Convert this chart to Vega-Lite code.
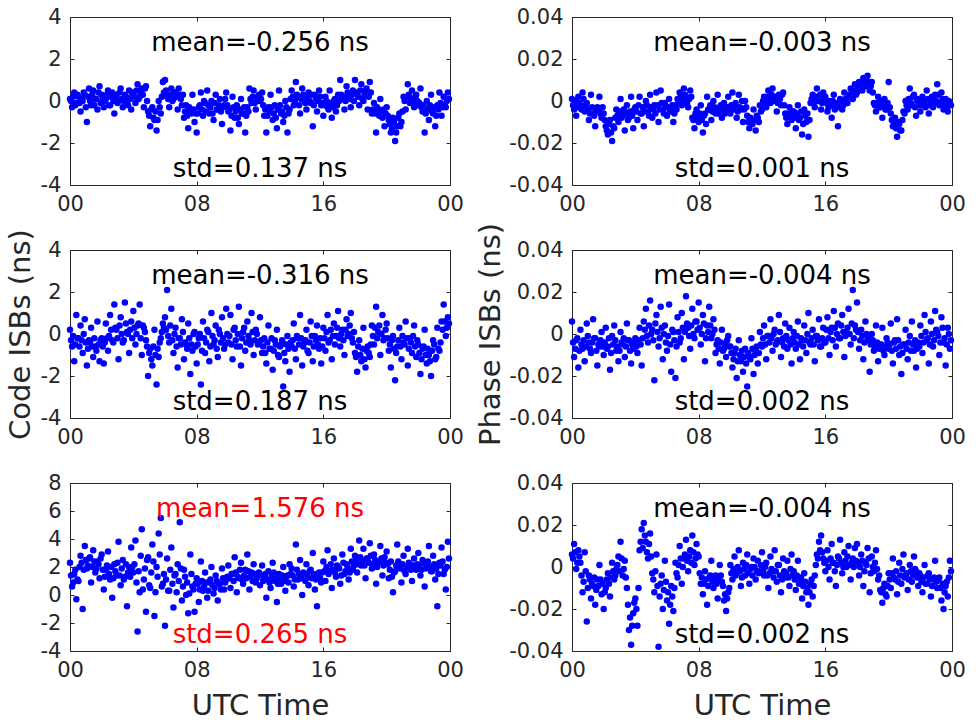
{
"$schema": "https://vega.github.io/schema/vega-lite/v6.json",
"padding": {"left": 5, "top": 5, "right": 5, "bottom": 5},
"config": {
  "font": "DejaVu Sans",
  "view": {"stroke": "#262626", "strokeWidth": 1},
  "axis": {"grid": false, "domain": false, "tickColor": "#262626", "tickSize": -4, "tickWidth": 1, "labelFont": "DejaVu Sans", "labelFontSize": 21, "labelColor": "#262626", "titleFont": "DejaVu Sans", "titleFontSize": 29, "titleFontWeight": "normal", "titleColor": "#262626", "labelFlush": false, "labelOverlap": false},
  "axisX": {"labelPadding": 12, "titlePadding": 11},
  "axisY": {"labelPadding": 13, "titlePadding": 5}
},
"columns": 2,
"spacing": {"row": 65, "column": 122},
"bounds": "flush",
"datasets": {
"a": [{"t":0,"v":0.1},{"t":8,"v":-0.3},{"t":16,"v":0.4},{"t":24,"v":-0.1},{"t":32,"v":0.2},{"t":40,"v":-0.5},{"t":48,"v":0.0},{"t":56,"v":0.3},{"t":64,"v":-1.0},{"t":72,"v":0.6},{"t":80,"v":-0.2},{"t":88,"v":0.5},{"t":96,"v":0.1},{"t":104,"v":-0.4},{"t":112,"v":0.7},
{"t":120,"v":0.3},{"t":128,"v":-0.3},{"t":136,"v":0.1},{"t":144,"v":0.5},{"t":152,"v":-0.2},{"t":160,"v":0.4},{"t":168,"v":-0.6},{"t":176,"v":0.2},{"t":184,"v":0.0},{"t":192,"v":0.6},{"t":200,"v":-0.3},{"t":208,"v":0.3},{"t":216,"v":-0.1},{"t":224,"v":0.5},{"t":232,"v":-0.4},
{"t":240,"v":0.4},{"t":248,"v":-0.1},{"t":256,"v":0.8},{"t":264,"v":0.2},{"t":272,"v":0.6},{"t":280,"v":-0.3},{"t":288,"v":0.7},{"t":296,"v":-0.5},{"t":304,"v":-1.2},{"t":312,"v":-0.3},{"t":320,"v":-0.9},{"t":328,"v":-1.4},{"t":336,"v":0.0},{"t":344,"v":-0.6},{"t":352,"v":0.9},
{"t":360,"v":1.0},{"t":368,"v":0.2},{"t":376,"v":-0.3},{"t":384,"v":0.6},{"t":392,"v":0.1},{"t":400,"v":0.4},{"t":408,"v":-0.4},{"t":416,"v":0.3},{"t":424,"v":-0.2},{"t":432,"v":-0.8},{"t":440,"v":-0.2},{"t":448,"v":-1.3},{"t":456,"v":-0.5},{"t":464,"v":0.3},{"t":472,"v":-1.0},
{"t":480,"v":-1.5},{"t":488,"v":-0.3},{"t":496,"v":0.4},{"t":504,"v":-0.7},{"t":512,"v":-0.1},{"t":520,"v":0.5},{"t":528,"v":-0.6},{"t":536,"v":0.0},{"t":544,"v":-0.9},{"t":552,"v":0.3},{"t":560,"v":-0.4},{"t":568,"v":0.1},{"t":576,"v":-1.1},{"t":584,"v":-0.2},{"t":592,"v":0.4},
{"t":600,"v":-0.5},{"t":608,"v":-1.4},{"t":616,"v":0.2},{"t":624,"v":-0.8},{"t":632,"v":-0.2},{"t":640,"v":-1.1},{"t":648,"v":0.1},{"t":656,"v":-0.6},{"t":664,"v":-1.5},{"t":672,"v":-0.3},{"t":680,"v":0.6},{"t":688,"v":-0.1},{"t":696,"v":0.5},{"t":704,"v":-0.4},{"t":712,"v":0.2},
{"t":720,"v":0.0},{"t":728,"v":0.4},{"t":736,"v":-0.7},{"t":744,"v":-1.5},{"t":752,"v":-0.3},{"t":760,"v":0.3},{"t":768,"v":-0.9},{"t":776,"v":-0.2},{"t":784,"v":-1.3},{"t":792,"v":0.5},{"t":800,"v":-0.6},{"t":808,"v":-1.0},{"t":816,"v":0.0},{"t":824,"v":-1.5},{"t":832,"v":-0.4},
{"t":840,"v":0.5},{"t":848,"v":-0.2},{"t":856,"v":0.9},{"t":864,"v":0.2},{"t":872,"v":-0.6},{"t":880,"v":0.6},{"t":888,"v":0.0},{"t":896,"v":-0.4},{"t":904,"v":0.4},{"t":912,"v":-0.1},{"t":920,"v":-1.2},{"t":928,"v":0.3},{"t":936,"v":-0.5},{"t":944,"v":0.5},{"t":952,"v":-0.2},
{"t":960,"v":-0.7},{"t":968,"v":0.2},{"t":976,"v":-0.3},{"t":984,"v":0.5},{"t":992,"v":-0.8},{"t":1000,"v":0.0},{"t":1008,"v":-0.5},{"t":1016,"v":0.3},{"t":1024,"v":1.0},{"t":1032,"v":0.1},{"t":1040,"v":-0.4},{"t":1048,"v":0.7},{"t":1056,"v":0.2},{"t":1064,"v":-0.3},{"t":1072,"v":0.5},
{"t":1080,"v":1.0},{"t":1088,"v":0.3},{"t":1096,"v":-0.2},{"t":1104,"v":0.8},{"t":1112,"v":0.0},{"t":1120,"v":0.5},{"t":1128,"v":-0.4},{"t":1136,"v":0.9},{"t":1144,"v":-0.6},{"t":1152,"v":-0.1},{"t":1160,"v":-1.5},{"t":1168,"v":-0.4},{"t":1176,"v":0.1},{"t":1184,"v":-0.8},{"t":1192,"v":-1.2},
{"t":1200,"v":-0.3},{"t":1208,"v":-0.9},{"t":1216,"v":-1.5},{"t":1224,"v":-0.8},{"t":1232,"v":-1.9},{"t":1240,"v":-1.2},{"t":1248,"v":-0.6},{"t":1256,"v":-1.0},{"t":1264,"v":0.2},{"t":1272,"v":-0.4},{"t":1280,"v":0.8},{"t":1288,"v":-0.1},{"t":1296,"v":0.5},{"t":1304,"v":-0.3},{"t":1312,"v":0.3},
{"t":1320,"v":-0.2},{"t":1328,"v":0.6},{"t":1336,"v":-0.5},{"t":1344,"v":-1.5},{"t":1352,"v":0.0},{"t":1360,"v":-0.9},{"t":1368,"v":0.3},{"t":1376,"v":-0.6},{"t":1384,"v":-1.2},{"t":1392,"v":-0.2},{"t":1400,"v":0.4},{"t":1408,"v":-0.7},{"t":1416,"v":0.2},{"t":1424,"v":-0.3},{"t":1432,"v":0.4},
{"t":4,"v":0.0},{"t":12,"v":0.2},{"t":20,"v":-0.2},{"t":28,"v":0.3},{"t":36,"v":-0.1},{"t":44,"v":0.1},{"t":52,"v":0.4},{"t":60,"v":-0.3},{"t":68,"v":0.2},{"t":76,"v":0.0},{"t":84,"v":0.3},{"t":92,"v":-0.2},{"t":100,"v":0.1},{"t":108,"v":0.4},{"t":116,"v":-0.1},
{"t":124,"v":0.1},{"t":132,"v":0.0},{"t":140,"v":0.3},{"t":148,"v":-0.2},{"t":156,"v":0.2},{"t":164,"v":0.0},{"t":172,"v":0.3},{"t":180,"v":-0.1},{"t":188,"v":0.4},{"t":196,"v":0.1},{"t":204,"v":0.0},{"t":212,"v":0.2},{"t":220,"v":-0.2},{"t":228,"v":0.1},{"t":236,"v":0.3},
{"t":244,"v":0.2},{"t":252,"v":0.5},{"t":260,"v":0.1},{"t":268,"v":0.4},{"t":276,"v":0.3},{"t":284,"v":0.6},{"t":292,"v":0.0},{"t":300,"v":-0.7},{"t":308,"v":-0.4},{"t":316,"v":-0.8},{"t":324,"v":-0.5},{"t":332,"v":-0.9},{"t":340,"v":-0.3},{"t":348,"v":0.2},{"t":356,"v":0.4},
{"t":364,"v":0.5},{"t":372,"v":0.1},{"t":380,"v":0.3},{"t":388,"v":0.0},{"t":396,"v":0.4},{"t":404,"v":0.2},{"t":412,"v":0.6},{"t":420,"v":0.1},{"t":428,"v":0.3},{"t":436,"v":-0.5},{"t":444,"v":-0.7},{"t":452,"v":-0.3},{"t":460,"v":-0.6},{"t":468,"v":-0.4},{"t":476,"v":-0.6},
{"t":484,"v":-0.6},{"t":492,"v":-0.2},{"t":500,"v":-0.4},{"t":508,"v":0.0},{"t":516,"v":-0.5},{"t":524,"v":-0.2},{"t":532,"v":-0.3},{"t":540,"v":-0.6},{"t":548,"v":-0.1},{"t":556,"v":-0.4},{"t":564,"v":-0.2},{"t":572,"v":-0.5},{"t":580,"v":-0.3},{"t":588,"v":0.1},{"t":596,"v":-0.2},
{"t":604,"v":-0.4},{"t":612,"v":-0.7},{"t":620,"v":-0.3},{"t":628,"v":-0.5},{"t":636,"v":-0.8},{"t":644,"v":-0.4},{"t":652,"v":-0.6},{"t":660,"v":-0.3},{"t":668,"v":-0.7},{"t":676,"v":-0.5},{"t":684,"v":0.1},{"t":692,"v":0.2},{"t":700,"v":-0.1},{"t":708,"v":0.0},{"t":716,"v":0.3},
{"t":724,"v":0.1},{"t":732,"v":-0.2},{"t":740,"v":-0.4},{"t":748,"v":-0.7},{"t":756,"v":-0.5},{"t":764,"v":-0.3},{"t":772,"v":-0.6},{"t":780,"v":-0.8},{"t":788,"v":-0.4},{"t":796,"v":-0.2},{"t":804,"v":-0.5},{"t":812,"v":-0.7},{"t":820,"v":-0.3},{"t":828,"v":-0.6},{"t":836,"v":0.1},
{"t":844,"v":0.2},{"t":852,"v":0.0},{"t":860,"v":0.3},{"t":868,"v":-0.2},{"t":876,"v":0.1},{"t":884,"v":0.3},{"t":892,"v":-0.1},{"t":900,"v":0.2},{"t":908,"v":0.0},{"t":916,"v":0.3},{"t":924,"v":-0.2},{"t":932,"v":0.1},{"t":940,"v":0.0},{"t":948,"v":0.2},{"t":956,"v":-0.1},
{"t":964,"v":-0.2},{"t":972,"v":0.0},{"t":980,"v":-0.4},{"t":988,"v":-0.1},{"t":996,"v":-0.3},{"t":1004,"v":0.1},{"t":1012,"v":-0.2},{"t":1020,"v":0.0},{"t":1028,"v":0.3},{"t":1036,"v":0.2},{"t":1044,"v":0.0},{"t":1052,"v":0.4},{"t":1060,"v":0.1},{"t":1068,"v":0.3},{"t":1076,"v":0.0},
{"t":1084,"v":0.4},{"t":1092,"v":0.2},{"t":1100,"v":0.5},{"t":1108,"v":0.1},{"t":1116,"v":0.3},{"t":1124,"v":0.6},{"t":1132,"v":0.2},{"t":1140,"v":0.4},{"t":1148,"v":-0.4},{"t":1156,"v":-0.6},{"t":1164,"v":-0.3},{"t":1172,"v":-0.7},{"t":1180,"v":-0.5},{"t":1188,"v":-0.4},{"t":1196,"v":-0.6},
{"t":1204,"v":-0.7},{"t":1212,"v":-1.1},{"t":1220,"v":-1.3},{"t":1228,"v":-1.0},{"t":1236,"v":-1.5},{"t":1244,"v":-0.8},{"t":1252,"v":-1.2},{"t":1260,"v":-0.5},{"t":1268,"v":0.0},{"t":1276,"v":0.2},{"t":1284,"v":0.3},{"t":1292,"v":0.1},{"t":1300,"v":-0.1},{"t":1308,"v":0.2},{"t":1316,"v":0.0},
{"t":1324,"v":-0.1},{"t":1332,"v":-0.3},{"t":1340,"v":-0.2},{"t":1348,"v":-0.6},{"t":1356,"v":-0.4},{"t":1364,"v":-0.2},{"t":1372,"v":-0.5},{"t":1380,"v":-0.3},{"t":1388,"v":-0.7},{"t":1396,"v":-0.4},{"t":1404,"v":-0.1},{"t":1412,"v":-0.3},{"t":1420,"v":-0.2},{"t":1428,"v":0.0},{"t":1436,"v":0.1}],
"b": [{"t":0,"v":0.001},{"t":8,"v":-0.004},{"t":16,"v":-0.007},{"t":24,"v":0.002},{"t":32,"v":-0.002},{"t":40,"v":0.004},{"t":48,"v":-0.005},{"t":56,"v":-0.001},{"t":64,"v":-0.009},{"t":72,"v":0.003},{"t":80,"v":-0.006},{"t":88,"v":-0.012},{"t":96,"v":-0.003},{"t":104,"v":0.002},{"t":112,"v":-0.008},
{"t":120,"v":-0.006},{"t":128,"v":-0.012},{"t":136,"v":-0.016},{"t":144,"v":-0.009},{"t":152,"v":-0.019},{"t":160,"v":-0.013},{"t":168,"v":-0.004},{"t":176,"v":-0.010},{"t":184,"v":0.001},{"t":192,"v":-0.007},{"t":200,"v":-0.014},{"t":208,"v":-0.002},{"t":216,"v":-0.008},{"t":224,"v":0.002},{"t":232,"v":-0.013},
{"t":240,"v":-0.003},{"t":248,"v":-0.009},{"t":256,"v":0.002},{"t":264,"v":-0.006},{"t":272,"v":-0.012},{"t":280,"v":0.000},{"t":288,"v":-0.005},{"t":296,"v":0.003},{"t":304,"v":-0.008},{"t":312,"v":-0.002},{"t":320,"v":0.004},{"t":328,"v":-0.010},{"t":336,"v":0.005},{"t":344,"v":-0.004},{"t":352,"v":-0.001},
{"t":360,"v":-0.007},{"t":368,"v":0.001},{"t":376,"v":-0.004},{"t":384,"v":-0.010},{"t":392,"v":-0.002},{"t":400,"v":0.001},{"t":408,"v":0.004},{"t":416,"v":-0.002},{"t":424,"v":0.006},{"t":432,"v":0.002},{"t":440,"v":-0.003},{"t":448,"v":0.005},{"t":456,"v":-0.008},{"t":464,"v":-0.013},{"t":472,"v":-0.004},
{"t":480,"v":-0.010},{"t":488,"v":-0.002},{"t":496,"v":-0.015},{"t":504,"v":-0.006},{"t":512,"v":0.002},{"t":520,"v":-0.004},{"t":528,"v":-0.009},{"t":536,"v":0.000},{"t":544,"v":-0.006},{"t":552,"v":0.003},{"t":560,"v":-0.003},{"t":568,"v":-0.008},{"t":576,"v":-0.001},{"t":584,"v":-0.005},{"t":592,"v":0.002},
{"t":600,"v":-0.006},{"t":608,"v":0.004},{"t":616,"v":-0.002},{"t":624,"v":-0.008},{"t":632,"v":0.003},{"t":640,"v":-0.004},{"t":648,"v":-0.010},{"t":656,"v":0.000},{"t":664,"v":-0.007},{"t":672,"v":-0.013},{"t":680,"v":-0.009},{"t":688,"v":-0.004},{"t":696,"v":-0.014},{"t":704,"v":-0.008},{"t":712,"v":-0.002},
{"t":720,"v":-0.004},{"t":728,"v":0.002},{"t":736,"v":-0.003},{"t":744,"v":0.005},{"t":752,"v":-0.001},{"t":760,"v":0.006},{"t":768,"v":0.001},{"t":776,"v":-0.005},{"t":784,"v":0.003},{"t":792,"v":-0.002},{"t":800,"v":0.004},{"t":808,"v":-0.006},{"t":816,"v":-0.011},{"t":824,"v":-0.003},{"t":832,"v":-0.009},
{"t":840,"v":-0.005},{"t":848,"v":-0.013},{"t":856,"v":-0.002},{"t":864,"v":-0.008},{"t":872,"v":-0.016},{"t":880,"v":-0.004},{"t":888,"v":-0.010},{"t":896,"v":-0.017},{"t":904,"v":-0.001},{"t":912,"v":0.003},{"t":920,"v":-0.003},{"t":928,"v":0.006},{"t":936,"v":0.000},{"t":944,"v":-0.004},{"t":952,"v":0.004},
{"t":960,"v":0.002},{"t":968,"v":-0.005},{"t":976,"v":0.000},{"t":984,"v":-0.008},{"t":992,"v":0.003},{"t":1000,"v":-0.003},{"t":1008,"v":-0.012},{"t":1016,"v":0.001},{"t":1024,"v":-0.004},{"t":1032,"v":0.004},{"t":1040,"v":-0.001},{"t":1048,"v":0.002},{"t":1056,"v":0.006},{"t":1064,"v":0.001},{"t":1072,"v":0.008},
{"t":1080,"v":0.004},{"t":1088,"v":0.009},{"t":1096,"v":0.006},{"t":1104,"v":0.011},{"t":1112,"v":0.007},{"t":1120,"v":0.012},{"t":1128,"v":0.005},{"t":1136,"v":0.009},{"t":1144,"v":-0.001},{"t":1152,"v":-0.005},{"t":1160,"v":0.002},{"t":1168,"v":-0.003},{"t":1176,"v":-0.008},{"t":1184,"v":0.001},{"t":1192,"v":-0.004},
{"t":1200,"v":0.009},{"t":1208,"v":-0.006},{"t":1216,"v":-0.012},{"t":1224,"v":-0.008},{"t":1232,"v":-0.017},{"t":1240,"v":-0.011},{"t":1248,"v":-0.014},{"t":1256,"v":-0.005},{"t":1264,"v":0.000},{"t":1272,"v":-0.004},{"t":1280,"v":0.006},{"t":1288,"v":-0.002},{"t":1296,"v":0.003},{"t":1304,"v":-0.007},{"t":1312,"v":0.001},
{"t":1320,"v":-0.005},{"t":1328,"v":0.002},{"t":1336,"v":-0.001},{"t":1344,"v":0.005},{"t":1352,"v":-0.006},{"t":1360,"v":0.000},{"t":1368,"v":-0.003},{"t":1376,"v":0.003},{"t":1384,"v":0.008},{"t":1392,"v":-0.002},{"t":1400,"v":0.004},{"t":1408,"v":-0.004},{"t":1416,"v":0.001},{"t":1424,"v":-0.005},{"t":1432,"v":-0.001},
{"t":4,"v":-0.002},{"t":12,"v":0.000},{"t":20,"v":-0.003},{"t":28,"v":-0.001},{"t":36,"v":-0.004},{"t":44,"v":0.001},{"t":52,"v":-0.002},{"t":60,"v":-0.004},{"t":68,"v":-0.006},{"t":76,"v":-0.003},{"t":84,"v":-0.007},{"t":92,"v":-0.005},{"t":100,"v":-0.004},{"t":108,"v":-0.006},{"t":116,"v":-0.003},
{"t":124,"v":-0.009},{"t":132,"v":-0.014},{"t":140,"v":-0.011},{"t":148,"v":-0.015},{"t":156,"v":-0.012},{"t":164,"v":-0.008},{"t":172,"v":-0.007},{"t":180,"v":-0.005},{"t":188,"v":-0.008},{"t":196,"v":-0.004},{"t":204,"v":-0.006},{"t":212,"v":-0.009},{"t":220,"v":-0.005},{"t":228,"v":-0.007},{"t":236,"v":-0.004},
{"t":244,"v":-0.005},{"t":252,"v":-0.002},{"t":260,"v":-0.006},{"t":268,"v":-0.003},{"t":276,"v":-0.005},{"t":284,"v":-0.002},{"t":292,"v":-0.007},{"t":300,"v":-0.003},{"t":308,"v":-0.004},{"t":316,"v":-0.006},{"t":324,"v":-0.002},{"t":332,"v":-0.004},{"t":340,"v":-0.001},{"t":348,"v":-0.006},{"t":356,"v":-0.003},
{"t":364,"v":-0.003},{"t":372,"v":-0.005},{"t":380,"v":-0.002},{"t":388,"v":-0.006},{"t":396,"v":-0.004},{"t":404,"v":-0.001},{"t":412,"v":0.002},{"t":420,"v":0.000},{"t":428,"v":0.003},{"t":436,"v":-0.001},{"t":444,"v":0.001},{"t":452,"v":0.002},{"t":460,"v":-0.009},{"t":468,"v":-0.006},{"t":476,"v":-0.008},
{"t":484,"v":-0.006},{"t":492,"v":-0.009},{"t":500,"v":-0.007},{"t":508,"v":-0.011},{"t":516,"v":-0.004},{"t":524,"v":-0.002},{"t":532,"v":-0.005},{"t":540,"v":-0.003},{"t":548,"v":-0.004},{"t":556,"v":-0.006},{"t":564,"v":-0.002},{"t":572,"v":-0.004},{"t":580,"v":-0.006},{"t":588,"v":-0.003},{"t":596,"v":-0.004},
{"t":604,"v":-0.002},{"t":612,"v":-0.004},{"t":620,"v":-0.001},{"t":628,"v":-0.005},{"t":636,"v":-0.003},{"t":644,"v":0.000},{"t":652,"v":-0.004},{"t":660,"v":-0.003},{"t":668,"v":-0.010},{"t":676,"v":-0.008},{"t":684,"v":-0.011},{"t":692,"v":-0.009},{"t":700,"v":-0.007},{"t":708,"v":-0.010},{"t":716,"v":-0.005},
{"t":724,"v":0.000},{"t":732,"v":-0.001},{"t":740,"v":0.002},{"t":748,"v":0.001},{"t":756,"v":0.003},{"t":764,"v":0.000},{"t":772,"v":0.002},{"t":780,"v":-0.001},{"t":788,"v":0.001},{"t":796,"v":0.003},{"t":804,"v":-0.002},{"t":812,"v":-0.008},{"t":820,"v":-0.006},{"t":828,"v":-0.007},{"t":836,"v":-0.005},
{"t":844,"v":-0.008},{"t":852,"v":-0.006},{"t":860,"v":-0.009},{"t":868,"v":-0.005},{"t":876,"v":-0.011},{"t":884,"v":-0.007},{"t":892,"v":-0.006},{"t":900,"v":-0.009},{"t":908,"v":0.001},{"t":916,"v":-0.001},{"t":924,"v":0.002},{"t":932,"v":0.000},{"t":940,"v":0.003},{"t":948,"v":-0.001},{"t":956,"v":0.001},
{"t":964,"v":-0.001},{"t":972,"v":-0.003},{"t":980,"v":-0.002},{"t":988,"v":0.000},{"t":996,"v":-0.004},{"t":1004,"v":-0.001},{"t":1012,"v":-0.003},{"t":1020,"v":0.000},{"t":1028,"v":-0.002},{"t":1036,"v":0.001},{"t":1044,"v":-0.001},{"t":1052,"v":0.003},{"t":1060,"v":0.004},{"t":1068,"v":0.005},{"t":1076,"v":0.003},
{"t":1084,"v":0.006},{"t":1092,"v":0.008},{"t":1100,"v":0.005},{"t":1108,"v":0.009},{"t":1116,"v":0.010},{"t":1124,"v":0.008},{"t":1132,"v":0.007},{"t":1140,"v":0.004},{"t":1148,"v":-0.002},{"t":1156,"v":-0.001},{"t":1164,"v":-0.003},{"t":1172,"v":0.000},{"t":1180,"v":-0.002},{"t":1188,"v":-0.004},{"t":1196,"v":-0.001},
{"t":1204,"v":-0.003},{"t":1212,"v":-0.009},{"t":1220,"v":-0.011},{"t":1228,"v":-0.013},{"t":1236,"v":-0.010},{"t":1244,"v":-0.014},{"t":1252,"v":-0.009},{"t":1260,"v":-0.006},{"t":1268,"v":-0.002},{"t":1276,"v":0.001},{"t":1284,"v":-0.001},{"t":1292,"v":0.002},{"t":1300,"v":-0.003},{"t":1308,"v":0.000},{"t":1316,"v":-0.002},
{"t":1324,"v":-0.002},{"t":1332,"v":0.000},{"t":1340,"v":-0.003},{"t":1348,"v":0.001},{"t":1356,"v":-0.002},{"t":1364,"v":0.002},{"t":1372,"v":-0.001},{"t":1380,"v":0.000},{"t":1388,"v":0.003},{"t":1396,"v":-0.001},{"t":1404,"v":0.001},{"t":1412,"v":-0.002},{"t":1420,"v":-0.003},{"t":1428,"v":0.000},{"t":1436,"v":-0.002}],
"c": [{"t":0,"v":0.2},{"t":8,"v":-0.6},{"t":16,"v":-1.3},{"t":24,"v":0.9},{"t":32,"v":-0.2},{"t":40,"v":0.4},{"t":48,"v":-0.9},{"t":56,"v":0.7},{"t":64,"v":-1.5},{"t":72,"v":-0.3},{"t":80,"v":0.3},{"t":88,"v":-1.1},{"t":96,"v":-0.6},{"t":104,"v":0.6},{"t":112,"v":-1.3},
{"t":120,"v":-0.2},{"t":128,"v":-1.4},{"t":136,"v":0.5},{"t":144,"v":-0.8},{"t":152,"v":0.9},{"t":160,"v":-0.3},{"t":168,"v":1.4},{"t":176,"v":0.2},{"t":184,"v":-1.2},{"t":192,"v":0.8},{"t":200,"v":-0.4},{"t":208,"v":1.5},{"t":216,"v":0.1},{"t":224,"v":-0.9},{"t":232,"v":0.6},
{"t":240,"v":1.1},{"t":248,"v":-0.5},{"t":256,"v":0.4},{"t":264,"v":1.4},{"t":272,"v":-1.0},{"t":280,"v":0.3},{"t":288,"v":-0.3},{"t":296,"v":-2.0},{"t":304,"v":-0.7},{"t":312,"v":-1.5},{"t":320,"v":0.2},{"t":328,"v":-2.4},{"t":336,"v":-1.1},{"t":344,"v":-0.2},{"t":352,"v":0.5},
{"t":360,"v":0.8},{"t":368,"v":2.1},{"t":376,"v":-0.4},{"t":384,"v":1.2},{"t":392,"v":-0.9},{"t":400,"v":0.3},{"t":408,"v":-1.6},{"t":416,"v":-0.2},{"t":424,"v":0.7},{"t":432,"v":-1.2},{"t":440,"v":-0.5},{"t":448,"v":0.5},{"t":456,"v":-1.9},{"t":464,"v":-0.8},{"t":472,"v":0.1},
{"t":480,"v":-1.4},{"t":488,"v":-0.2},{"t":496,"v":-2.4},{"t":504,"v":0.6},{"t":512,"v":-0.9},{"t":520,"v":0.2},{"t":528,"v":-1.3},{"t":536,"v":1.0},{"t":544,"v":-0.5},{"t":552,"v":0.4},{"t":560,"v":-1.1},{"t":568,"v":0.0},{"t":576,"v":0.8},{"t":584,"v":-0.7},{"t":592,"v":1.2},
{"t":600,"v":-0.4},{"t":608,"v":0.9},{"t":616,"v":-1.2},{"t":624,"v":0.3},{"t":632,"v":-0.6},{"t":640,"v":1.3},{"t":648,"v":-1.5},{"t":656,"v":0.1},{"t":664,"v":-0.8},{"t":672,"v":0.6},{"t":680,"v":-0.3},{"t":688,"v":1.0},{"t":696,"v":-1.0},{"t":704,"v":0.2},{"t":712,"v":-0.5},
{"t":720,"v":0.8},{"t":728,"v":-0.9},{"t":736,"v":-0.2},{"t":744,"v":-1.4},{"t":752,"v":0.4},{"t":760,"v":-0.7},{"t":768,"v":-1.7},{"t":776,"v":-0.3},{"t":784,"v":0.2},{"t":792,"v":-1.1},{"t":800,"v":-0.5},{"t":808,"v":-2.5},{"t":816,"v":-1.3},{"t":824,"v":-0.1},{"t":832,"v":-1.8},
{"t":840,"v":-0.6},{"t":848,"v":0.5},{"t":856,"v":-1.2},{"t":864,"v":-0.2},{"t":872,"v":0.9},{"t":880,"v":-1.5},{"t":888,"v":-0.4},{"t":896,"v":0.2},{"t":904,"v":-0.9},{"t":912,"v":0.6},{"t":920,"v":-1.3},{"t":928,"v":-0.1},{"t":936,"v":0.4},{"t":944,"v":-0.7},{"t":952,"v":-1.4},
{"t":960,"v":0.3},{"t":968,"v":-0.8},{"t":976,"v":0.9},{"t":984,"v":-0.3},{"t":992,"v":-1.2},{"t":1000,"v":0.5},{"t":1008,"v":-0.1},{"t":1016,"v":1.1},{"t":1024,"v":-0.6},{"t":1032,"v":0.2},{"t":1040,"v":-1.0},{"t":1048,"v":0.7},{"t":1056,"v":0.0},{"t":1064,"v":1.0},{"t":1072,"v":-0.4},
{"t":1080,"v":-0.9},{"t":1088,"v":-1.8},{"t":1096,"v":-0.3},{"t":1104,"v":-1.3},{"t":1112,"v":0.3},{"t":1120,"v":-1.6},{"t":1128,"v":-0.6},{"t":1136,"v":-1.1},{"t":1144,"v":0.4},{"t":1152,"v":-0.5},{"t":1160,"v":1.3},{"t":1168,"v":0.1},{"t":1176,"v":-1.0},{"t":1184,"v":0.9},{"t":1192,"v":-0.2},
{"t":1200,"v":0.5},{"t":1208,"v":-0.8},{"t":1216,"v":-1.6},{"t":1224,"v":-0.1},{"t":1232,"v":-2.2},{"t":1240,"v":-0.6},{"t":1248,"v":0.3},{"t":1256,"v":-1.2},{"t":1264,"v":-0.4},{"t":1272,"v":0.6},{"t":1280,"v":-1.5},{"t":1288,"v":-0.2},{"t":1296,"v":-0.9},{"t":1304,"v":0.4},{"t":1312,"v":-1.1},
{"t":1320,"v":-0.5},{"t":1328,"v":-1.9},{"t":1336,"v":-0.7},{"t":1344,"v":0.2},{"t":1352,"v":-1.4},{"t":1360,"v":-1.0},{"t":1368,"v":-2.0},{"t":1376,"v":-0.3},{"t":1384,"v":-1.2},{"t":1392,"v":0.3},{"t":1400,"v":-0.8},{"t":1408,"v":0.6},{"t":1416,"v":1.4},{"t":1424,"v":-0.1},{"t":1432,"v":0.8},
{"t":4,"v":-0.3},{"t":12,"v":-0.1},{"t":20,"v":-0.5},{"t":28,"v":-0.2},{"t":36,"v":-0.6},{"t":44,"v":-0.3},{"t":52,"v":0.0},{"t":60,"v":-0.4},{"t":68,"v":-0.7},{"t":76,"v":-0.4},{"t":84,"v":-0.6},{"t":92,"v":-0.2},{"t":100,"v":-0.8},{"t":108,"v":-0.5},{"t":116,"v":-0.3},
{"t":124,"v":-0.6},{"t":132,"v":-0.4},{"t":140,"v":-0.2},{"t":148,"v":-0.1},{"t":156,"v":0.2},{"t":164,"v":-0.4},{"t":172,"v":0.3},{"t":180,"v":-0.2},{"t":188,"v":0.4},{"t":196,"v":0.0},{"t":204,"v":-0.3},{"t":212,"v":0.5},{"t":220,"v":0.0},{"t":228,"v":0.2},{"t":236,"v":-0.2},
{"t":244,"v":0.3},{"t":252,"v":0.0},{"t":260,"v":0.5},{"t":268,"v":-0.2},{"t":276,"v":0.4},{"t":284,"v":0.1},{"t":292,"v":-0.6},{"t":300,"v":-0.9},{"t":308,"v":-1.2},{"t":316,"v":-0.6},{"t":324,"v":-1.0},{"t":332,"v":-0.7},{"t":340,"v":-0.4},{"t":348,"v":0.1},{"t":356,"v":0.3},
{"t":364,"v":0.2},{"t":372,"v":-0.1},{"t":380,"v":0.4},{"t":388,"v":-0.3},{"t":396,"v":0.0},{"t":404,"v":-0.6},{"t":412,"v":-0.2},{"t":420,"v":-0.5},{"t":428,"v":0.1},{"t":436,"v":-0.4},{"t":444,"v":-0.7},{"t":452,"v":-0.2},{"t":460,"v":-0.5},{"t":468,"v":0.0},{"t":476,"v":-0.6},
{"t":484,"v":-0.5},{"t":492,"v":0.0},{"t":500,"v":-0.8},{"t":508,"v":-0.2},{"t":516,"v":-0.4},{"t":524,"v":0.1},{"t":532,"v":-0.6},{"t":540,"v":-0.1},{"t":548,"v":-0.3},{"t":556,"v":-0.7},{"t":564,"v":0.2},{"t":572,"v":-0.4},{"t":580,"v":-0.2},{"t":588,"v":-0.5},{"t":596,"v":0.0},
{"t":604,"v":-0.1},{"t":612,"v":-0.5},{"t":620,"v":0.2},{"t":628,"v":-0.3},{"t":636,"v":0.0},{"t":644,"v":-0.6},{"t":652,"v":-0.2},{"t":660,"v":0.3},{"t":668,"v":-0.4},{"t":676,"v":-0.1},{"t":684,"v":-0.5},{"t":692,"v":0.1},{"t":700,"v":-0.3},{"t":708,"v":0.0},{"t":716,"v":-0.4},
{"t":724,"v":-0.3},{"t":732,"v":-0.6},{"t":740,"v":-0.9},{"t":748,"v":-0.4},{"t":756,"v":-0.7},{"t":764,"v":-0.2},{"t":772,"v":-0.8},{"t":780,"v":-0.5},{"t":788,"v":-1.0},{"t":796,"v":-0.6},{"t":804,"v":-0.3},{"t":812,"v":-0.9},{"t":820,"v":-0.5},{"t":828,"v":-0.7},{"t":836,"v":-0.4},
{"t":844,"v":-0.3},{"t":852,"v":-0.7},{"t":860,"v":-0.1},{"t":868,"v":-0.5},{"t":876,"v":-0.2},{"t":884,"v":-0.6},{"t":892,"v":-0.3},{"t":900,"v":-0.8},{"t":908,"v":-0.4},{"t":916,"v":-0.1},{"t":924,"v":-0.6},{"t":932,"v":-0.3},{"t":940,"v":-0.5},{"t":948,"v":-0.2},{"t":956,"v":-0.6},
{"t":964,"v":-0.2},{"t":972,"v":0.1},{"t":980,"v":-0.4},{"t":988,"v":0.2},{"t":996,"v":-0.1},{"t":1004,"v":-0.5},{"t":1012,"v":0.3},{"t":1020,"v":-0.2},{"t":1028,"v":0.0},{"t":1036,"v":-0.3},{"t":1044,"v":0.2},{"t":1052,"v":-0.1},{"t":1060,"v":0.4},{"t":1068,"v":-0.2},{"t":1076,"v":0.1},
{"t":1084,"v":-1.1},{"t":1092,"v":-0.6},{"t":1100,"v":-1.0},{"t":1108,"v":-0.7},{"t":1116,"v":-1.2},{"t":1124,"v":-0.8},{"t":1132,"v":-0.9},{"t":1140,"v":-0.5},{"t":1148,"v":-0.1},{"t":1156,"v":0.3},{"t":1164,"v":-0.2},{"t":1172,"v":0.4},{"t":1180,"v":0.0},{"t":1188,"v":-0.3},{"t":1196,"v":0.2},
{"t":1204,"v":-0.2},{"t":1212,"v":-0.5},{"t":1220,"v":-0.3},{"t":1228,"v":-0.7},{"t":1236,"v":-0.9},{"t":1244,"v":-0.3},{"t":1252,"v":-0.6},{"t":1260,"v":-0.1},{"t":1268,"v":-0.5},{"t":1276,"v":-0.2},{"t":1284,"v":-0.7},{"t":1292,"v":-0.4},{"t":1300,"v":-0.1},{"t":1308,"v":-0.6},{"t":1316,"v":-0.3},
{"t":1324,"v":-0.9},{"t":1332,"v":-1.2},{"t":1340,"v":-0.6},{"t":1348,"v":-1.0},{"t":1356,"v":-0.7},{"t":1364,"v":-1.3},{"t":1372,"v":-0.8},{"t":1380,"v":-0.5},{"t":1388,"v":-1.1},{"t":1396,"v":-0.7},{"t":1404,"v":-0.4},{"t":1412,"v":0.2},{"t":1420,"v":0.6},{"t":1428,"v":0.3},{"t":1436,"v":0.5}],
"d": [{"t":0,"v":0.006},{"t":8,"v":-0.011},{"t":16,"v":-0.003},{"t":24,"v":-0.016},{"t":32,"v":0.002},{"t":40,"v":-0.007},{"t":48,"v":-0.013},{"t":56,"v":0.005},{"t":64,"v":-0.004},{"t":72,"v":-0.009},{"t":80,"v":0.007},{"t":88,"v":-0.002},{"t":96,"v":-0.015},{"t":104,"v":-0.006},{"t":112,"v":0.001},
{"t":120,"v":-0.010},{"t":128,"v":0.003},{"t":136,"v":-0.006},{"t":144,"v":-0.017},{"t":152,"v":-0.001},{"t":160,"v":0.004},{"t":168,"v":-0.008},{"t":176,"v":-0.013},{"t":184,"v":0.001},{"t":192,"v":-0.005},{"t":200,"v":-0.011},{"t":208,"v":0.005},{"t":216,"v":-0.003},{"t":224,"v":-0.014},{"t":232,"v":-0.007},
{"t":240,"v":-0.002},{"t":248,"v":-0.009},{"t":256,"v":0.003},{"t":264,"v":-0.015},{"t":272,"v":0.006},{"t":280,"v":0.012},{"t":288,"v":-0.004},{"t":296,"v":0.016},{"t":304,"v":0.002},{"t":312,"v":-0.022},{"t":320,"v":0.009},{"t":328,"v":-0.006},{"t":336,"v":0.013},{"t":344,"v":-0.012},{"t":352,"v":0.004},
{"t":360,"v":-0.008},{"t":368,"v":0.014},{"t":376,"v":-0.018},{"t":384,"v":0.001},{"t":392,"v":-0.021},{"t":400,"v":0.008},{"t":408,"v":-0.004},{"t":416,"v":0.010},{"t":424,"v":-0.012},{"t":432,"v":0.018},{"t":440,"v":0.003},{"t":448,"v":-0.007},{"t":456,"v":0.012},{"t":464,"v":-0.002},{"t":472,"v":0.006},
{"t":480,"v":0.015},{"t":488,"v":-0.005},{"t":496,"v":0.009},{"t":504,"v":-0.013},{"t":512,"v":0.004},{"t":520,"v":0.013},{"t":528,"v":-0.002},{"t":536,"v":0.007},{"t":544,"v":-0.009},{"t":552,"v":-0.003},{"t":560,"v":-0.014},{"t":568,"v":0.002},{"t":576,"v":-0.007},{"t":584,"v":-0.011},{"t":592,"v":-0.001},
{"t":600,"v":-0.006},{"t":608,"v":-0.016},{"t":616,"v":-0.009},{"t":624,"v":-0.021},{"t":632,"v":-0.003},{"t":640,"v":-0.013},{"t":648,"v":-0.018},{"t":656,"v":-0.007},{"t":664,"v":-0.025},{"t":672,"v":-0.011},{"t":680,"v":-0.002},{"t":688,"v":-0.019},{"t":696,"v":-0.008},{"t":704,"v":-0.014},{"t":712,"v":0.001},
{"t":720,"v":-0.006},{"t":728,"v":0.004},{"t":736,"v":-0.012},{"t":744,"v":-0.001},{"t":752,"v":0.007},{"t":760,"v":-0.008},{"t":768,"v":0.002},{"t":776,"v":-0.004},{"t":784,"v":0.009},{"t":792,"v":-0.011},{"t":800,"v":-0.002},{"t":808,"v":0.005},{"t":816,"v":-0.007},{"t":824,"v":0.003},{"t":832,"v":-0.014},
{"t":840,"v":0.001},{"t":848,"v":-0.007},{"t":856,"v":0.006},{"t":864,"v":-0.012},{"t":872,"v":-0.003},{"t":880,"v":0.004},{"t":888,"v":-0.009},{"t":896,"v":0.010},{"t":904,"v":-0.005},{"t":912,"v":0.002},{"t":920,"v":-0.013},{"t":928,"v":-0.001},{"t":936,"v":0.007},{"t":944,"v":-0.006},{"t":952,"v":0.003},
{"t":960,"v":-0.004},{"t":968,"v":0.008},{"t":976,"v":-0.010},{"t":984,"v":0.003},{"t":992,"v":0.011},{"t":1000,"v":-0.006},{"t":1008,"v":0.005},{"t":1016,"v":-0.002},{"t":1024,"v":0.009},{"t":1032,"v":-0.011},{"t":1040,"v":0.001},{"t":1048,"v":0.012},{"t":1056,"v":-0.005},{"t":1064,"v":0.021},{"t":1072,"v":0.004},
{"t":1080,"v":0.015},{"t":1088,"v":-0.007},{"t":1096,"v":0.002},{"t":1104,"v":-0.012},{"t":1112,"v":0.006},{"t":1120,"v":-0.003},{"t":1128,"v":-0.018},{"t":1136,"v":0.000},{"t":1144,"v":-0.008},{"t":1152,"v":0.004},{"t":1160,"v":-0.013},{"t":1168,"v":-0.005},{"t":1176,"v":0.003},{"t":1184,"v":-0.010},{"t":1192,"v":-0.002},
{"t":1200,"v":-0.007},{"t":1208,"v":0.005},{"t":1216,"v":-0.014},{"t":1224,"v":-0.003},{"t":1232,"v":0.007},{"t":1240,"v":-0.010},{"t":1248,"v":-0.019},{"t":1256,"v":-0.005},{"t":1264,"v":0.002},{"t":1272,"v":-0.012},{"t":1280,"v":-0.001},{"t":1288,"v":0.006},{"t":1296,"v":-0.008},{"t":1304,"v":-0.016},{"t":1312,"v":-0.004},
{"t":1320,"v":0.004},{"t":1328,"v":-0.009},{"t":1336,"v":0.009},{"t":1344,"v":-0.003},{"t":1352,"v":-0.014},{"t":1360,"v":0.006},{"t":1368,"v":-0.006},{"t":1376,"v":0.011},{"t":1384,"v":0.001},{"t":1392,"v":-0.010},{"t":1400,"v":0.008},{"t":1408,"v":-0.004},{"t":1416,"v":-0.015},{"t":1424,"v":0.003},{"t":1432,"v":-0.007},
{"t":4,"v":-0.004},{"t":12,"v":-0.007},{"t":20,"v":-0.002},{"t":28,"v":-0.008},{"t":36,"v":-0.005},{"t":44,"v":-0.003},{"t":52,"v":-0.006},{"t":60,"v":-0.001},{"t":68,"v":-0.007},{"t":76,"v":-0.004},{"t":84,"v":-0.002},{"t":92,"v":-0.008},{"t":100,"v":-0.005},{"t":108,"v":-0.003},{"t":116,"v":-0.006},
{"t":124,"v":-0.004},{"t":132,"v":-0.007},{"t":140,"v":-0.002},{"t":148,"v":-0.009},{"t":156,"v":-0.005},{"t":164,"v":-0.003},{"t":172,"v":-0.006},{"t":180,"v":-0.008},{"t":188,"v":-0.004},{"t":196,"v":-0.002},{"t":204,"v":-0.006},{"t":212,"v":-0.003},{"t":220,"v":-0.008},{"t":228,"v":-0.005},{"t":236,"v":-0.004},
{"t":244,"v":-0.006},{"t":252,"v":-0.003},{"t":260,"v":-0.005},{"t":268,"v":-0.002},{"t":276,"v":0.002},{"t":284,"v":-0.001},{"t":292,"v":0.004},{"t":300,"v":0.000},{"t":308,"v":-0.003},{"t":316,"v":0.005},{"t":324,"v":0.001},{"t":332,"v":-0.002},{"t":340,"v":0.003},{"t":348,"v":0.000},{"t":356,"v":-0.004},
{"t":364,"v":-0.001},{"t":372,"v":-0.005},{"t":380,"v":0.002},{"t":388,"v":-0.003},{"t":396,"v":-0.006},{"t":404,"v":0.001},{"t":412,"v":-0.002},{"t":420,"v":0.003},{"t":428,"v":0.001},{"t":436,"v":0.005},{"t":444,"v":-0.001},{"t":452,"v":0.004},{"t":460,"v":0.000},{"t":468,"v":0.006},{"t":476,"v":0.002},
{"t":484,"v":0.003},{"t":492,"v":0.000},{"t":500,"v":0.005},{"t":508,"v":-0.002},{"t":516,"v":0.001},{"t":524,"v":0.004},{"t":532,"v":0.000},{"t":540,"v":0.002},{"t":548,"v":-0.005},{"t":556,"v":-0.007},{"t":564,"v":-0.004},{"t":572,"v":-0.008},{"t":580,"v":-0.005},{"t":588,"v":-0.003},{"t":596,"v":-0.006},
{"t":604,"v":-0.009},{"t":612,"v":-0.012},{"t":620,"v":-0.007},{"t":628,"v":-0.013},{"t":636,"v":-0.010},{"t":644,"v":-0.008},{"t":652,"v":-0.011},{"t":660,"v":-0.014},{"t":668,"v":-0.009},{"t":676,"v":-0.012},{"t":684,"v":-0.007},{"t":692,"v":-0.010},{"t":700,"v":-0.006},{"t":708,"v":-0.009},{"t":716,"v":-0.005},
{"t":724,"v":-0.002},{"t":732,"v":-0.005},{"t":740,"v":-0.001},{"t":748,"v":-0.004},{"t":756,"v":-0.002},{"t":764,"v":0.000},{"t":772,"v":-0.005},{"t":780,"v":-0.003},{"t":788,"v":0.001},{"t":796,"v":-0.004},{"t":804,"v":-0.006},{"t":812,"v":-0.001},{"t":820,"v":-0.003},{"t":828,"v":-0.005},{"t":836,"v":-0.002},
{"t":844,"v":-0.004},{"t":852,"v":-0.001},{"t":860,"v":-0.005},{"t":868,"v":-0.002},{"t":876,"v":-0.006},{"t":884,"v":-0.003},{"t":892,"v":0.000},{"t":900,"v":-0.004},{"t":908,"v":-0.002},{"t":916,"v":-0.005},{"t":924,"v":-0.001},{"t":932,"v":-0.003},{"t":940,"v":-0.006},{"t":948,"v":-0.002},{"t":956,"v":-0.004},
{"t":964,"v":0.002},{"t":972,"v":-0.002},{"t":980,"v":0.001},{"t":988,"v":-0.003},{"t":996,"v":0.003},{"t":1004,"v":0.000},{"t":1012,"v":-0.002},{"t":1020,"v":0.004},{"t":1028,"v":0.001},{"t":1036,"v":-0.001},{"t":1044,"v":0.003},{"t":1052,"v":0.000},{"t":1060,"v":0.005},{"t":1068,"v":-0.002},{"t":1076,"v":0.002},
{"t":1084,"v":0.001},{"t":1092,"v":-0.003},{"t":1100,"v":-0.001},{"t":1108,"v":-0.004},{"t":1116,"v":0.000},{"t":1124,"v":-0.002},{"t":1132,"v":-0.005},{"t":1140,"v":-0.003},{"t":1148,"v":-0.006},{"t":1156,"v":-0.004},{"t":1164,"v":-0.007},{"t":1172,"v":-0.005},{"t":1180,"v":-0.008},{"t":1188,"v":-0.006},{"t":1196,"v":-0.004},
{"t":1204,"v":-0.005},{"t":1212,"v":-0.008},{"t":1220,"v":-0.004},{"t":1228,"v":-0.007},{"t":1236,"v":-0.003},{"t":1244,"v":-0.006},{"t":1252,"v":-0.009},{"t":1260,"v":-0.005},{"t":1268,"v":-0.007},{"t":1276,"v":-0.004},{"t":1284,"v":-0.008},{"t":1292,"v":-0.005},{"t":1300,"v":-0.003},{"t":1308,"v":-0.007},{"t":1316,"v":-0.006},
{"t":1324,"v":-0.001},{"t":1332,"v":-0.004},{"t":1340,"v":0.001},{"t":1348,"v":-0.002},{"t":1356,"v":-0.005},{"t":1364,"v":0.000},{"t":1372,"v":-0.003},{"t":1380,"v":0.002},{"t":1388,"v":-0.001},{"t":1396,"v":-0.004},{"t":1404,"v":0.003},{"t":1412,"v":-0.002},{"t":1420,"v":-0.005},{"t":1428,"v":0.000},{"t":1436,"v":-0.003}],
"e": [{"t":0,"v":2.3},{"t":8,"v":0.6},{"t":16,"v":1.5},{"t":24,"v":-0.3},{"t":32,"v":1.0},{"t":40,"v":2.8},{"t":48,"v":-1.0},{"t":56,"v":3.5},{"t":64,"v":1.9},{"t":72,"v":2.6},{"t":80,"v":0.9},{"t":88,"v":3.2},{"t":96,"v":1.6},{"t":104,"v":2.4},{"t":112,"v":1.2},
{"t":120,"v":2.9},{"t":128,"v":0.4},{"t":136,"v":1.8},{"t":144,"v":3.1},{"t":152,"v":1.1},{"t":160,"v":-0.2},{"t":168,"v":2.2},{"t":176,"v":1.4},{"t":184,"v":3.8},{"t":192,"v":0.7},{"t":200,"v":2.5},{"t":208,"v":1.3},{"t":216,"v":-0.8},{"t":224,"v":2.0},{"t":232,"v":3.4},
{"t":240,"v":1.6},{"t":248,"v":3.9},{"t":256,"v":-2.6},{"t":264,"v":0.2},{"t":272,"v":4.7},{"t":280,"v":1.1},{"t":288,"v":-1.2},{"t":296,"v":2.7},{"t":304,"v":0.5},{"t":312,"v":3.6},{"t":320,"v":-1.5},{"t":328,"v":2.0},{"t":336,"v":4.4},{"t":344,"v":5.5},{"t":352,"v":0.8},
{"t":360,"v":-2.2},{"t":368,"v":2.6},{"t":376,"v":0.3},{"t":384,"v":3.4},{"t":392,"v":-0.9},{"t":400,"v":1.5},{"t":408,"v":2.2},{"t":416,"v":5.2},{"t":424,"v":-0.4},{"t":432,"v":1.8},{"t":440,"v":0.0},{"t":448,"v":-1.3},{"t":456,"v":2.9},{"t":464,"v":0.6},{"t":472,"v":-1.2},
{"t":480,"v":1.2},{"t":488,"v":-0.5},{"t":496,"v":2.4},{"t":504,"v":0.3},{"t":512,"v":1.6},{"t":520,"v":-0.2},{"t":528,"v":0.9},{"t":536,"v":2.0},{"t":544,"v":0.1},{"t":552,"v":1.4},{"t":560,"v":-0.4},{"t":568,"v":0.8},{"t":576,"v":1.9},{"t":584,"v":0.4},{"t":592,"v":1.1},
{"t":600,"v":2.1},{"t":608,"v":0.5},{"t":616,"v":1.5},{"t":624,"v":2.7},{"t":632,"v":0.2},{"t":640,"v":1.2},{"t":648,"v":2.3},{"t":656,"v":0.8},{"t":664,"v":1.8},{"t":672,"v":2.9},{"t":680,"v":0.4},{"t":688,"v":1.6},{"t":696,"v":2.2},{"t":704,"v":0.9},{"t":712,"v":1.4},
{"t":720,"v":0.7},{"t":728,"v":2.1},{"t":736,"v":1.3},{"t":744,"v":-0.2},{"t":752,"v":1.7},{"t":760,"v":0.5},{"t":768,"v":2.3},{"t":776,"v":1.0},{"t":784,"v":-0.5},{"t":792,"v":1.5},{"t":800,"v":0.8},{"t":808,"v":2.0},{"t":816,"v":0.3},{"t":824,"v":1.4},{"t":832,"v":2.2},
{"t":840,"v":1.9},{"t":848,"v":0.6},{"t":856,"v":3.6},{"t":864,"v":1.1},{"t":872,"v":2.5},{"t":880,"v":0.0},{"t":888,"v":1.5},{"t":896,"v":2.2},{"t":904,"v":0.7},{"t":912,"v":1.8},{"t":920,"v":3.0},{"t":928,"v":0.4},{"t":936,"v":-0.8},{"t":944,"v":1.6},{"t":952,"v":0.9},
{"t":960,"v":2.4},{"t":968,"v":1.0},{"t":976,"v":3.2},{"t":984,"v":1.7},{"t":992,"v":0.5},{"t":1000,"v":2.6},{"t":1008,"v":1.3},{"t":1016,"v":2.0},{"t":1024,"v":0.8},{"t":1032,"v":2.9},{"t":1040,"v":1.5},{"t":1048,"v":2.2},{"t":1056,"v":1.1},{"t":1064,"v":3.3},{"t":1072,"v":1.8},
{"t":1080,"v":2.8},{"t":1088,"v":1.6},{"t":1096,"v":3.9},{"t":1104,"v":2.1},{"t":1112,"v":3.3},{"t":1120,"v":1.2},{"t":1128,"v":2.6},{"t":1136,"v":3.7},{"t":1144,"v":1.9},{"t":1152,"v":2.9},{"t":1160,"v":0.8},{"t":1168,"v":2.3},{"t":1176,"v":3.5},{"t":1184,"v":1.4},{"t":1192,"v":2.7},
{"t":1200,"v":3.1},{"t":1208,"v":1.2},{"t":1216,"v":2.4},{"t":1224,"v":0.2},{"t":1232,"v":1.7},{"t":1240,"v":3.6},{"t":1248,"v":2.0},{"t":1256,"v":0.9},{"t":1264,"v":2.8},{"t":1272,"v":1.5},{"t":1280,"v":3.3},{"t":1288,"v":2.2},{"t":1296,"v":1.0},{"t":1304,"v":2.6},{"t":1312,"v":1.8},
{"t":1320,"v":3.0},{"t":1328,"v":1.4},{"t":1336,"v":2.5},{"t":1344,"v":0.6},{"t":1352,"v":2.1},{"t":1360,"v":3.5},{"t":1368,"v":1.7},{"t":1376,"v":2.8},{"t":1384,"v":1.1},{"t":1392,"v":-0.8},{"t":1400,"v":2.3},{"t":1408,"v":3.4},{"t":1416,"v":1.5},{"t":1424,"v":0.4},{"t":1432,"v":3.8},
{"t":4,"v":1.4},{"t":12,"v":0.9},{"t":20,"v":1.8},{"t":28,"v":1.1},{"t":36,"v":2.0},{"t":44,"v":2.3},{"t":52,"v":1.8},{"t":60,"v":2.5},{"t":68,"v":2.1},{"t":76,"v":2.7},{"t":84,"v":2.0},{"t":92,"v":2.4},{"t":100,"v":1.9},{"t":108,"v":2.2},{"t":116,"v":2.6},
{"t":124,"v":1.8},{"t":132,"v":1.3},{"t":140,"v":2.1},{"t":148,"v":1.5},{"t":156,"v":2.0},{"t":164,"v":1.2},{"t":172,"v":1.7},{"t":180,"v":2.3},{"t":188,"v":1.4},{"t":196,"v":1.9},{"t":204,"v":1.1},{"t":212,"v":2.2},{"t":220,"v":1.6},{"t":228,"v":1.3},{"t":236,"v":2.0},
{"t":244,"v":2.2},{"t":252,"v":0.9},{"t":260,"v":1.7},{"t":268,"v":2.8},{"t":276,"v":0.4},{"t":284,"v":1.9},{"t":292,"v":2.5},{"t":300,"v":0.7},{"t":308,"v":1.6},{"t":316,"v":2.4},{"t":324,"v":0.2},{"t":332,"v":1.3},{"t":340,"v":2.9},{"t":348,"v":0.6},{"t":356,"v":1.5},
{"t":364,"v":1.1},{"t":372,"v":0.3},{"t":380,"v":1.8},{"t":388,"v":0.8},{"t":396,"v":1.4},{"t":404,"v":0.2},{"t":412,"v":1.0},{"t":420,"v":1.9},{"t":428,"v":0.6},{"t":436,"v":1.3},{"t":444,"v":0.9},{"t":452,"v":0.1},{"t":460,"v":1.5},{"t":468,"v":0.4},{"t":476,"v":0.8},
{"t":484,"v":0.8},{"t":492,"v":0.4},{"t":500,"v":1.0},{"t":508,"v":0.6},{"t":516,"v":0.9},{"t":524,"v":0.3},{"t":532,"v":1.1},{"t":540,"v":0.7},{"t":548,"v":0.5},{"t":556,"v":1.0},{"t":564,"v":0.8},{"t":572,"v":0.4},{"t":580,"v":1.2},{"t":588,"v":0.9},{"t":596,"v":1.3},
{"t":604,"v":1.2},{"t":612,"v":1.5},{"t":620,"v":1.0},{"t":628,"v":1.6},{"t":636,"v":1.3},{"t":644,"v":1.8},{"t":652,"v":1.1},{"t":660,"v":1.4},{"t":668,"v":1.2},{"t":676,"v":1.7},{"t":684,"v":1.3},{"t":692,"v":1.0},{"t":700,"v":1.5},{"t":708,"v":1.2},{"t":716,"v":1.6},
{"t":724,"v":1.4},{"t":732,"v":1.0},{"t":740,"v":1.5},{"t":748,"v":1.1},{"t":756,"v":0.9},{"t":764,"v":1.3},{"t":772,"v":1.6},{"t":780,"v":1.2},{"t":788,"v":0.8},{"t":796,"v":1.1},{"t":804,"v":1.4},{"t":812,"v":1.0},{"t":820,"v":1.3},{"t":828,"v":0.9},{"t":836,"v":1.5},
{"t":844,"v":1.4},{"t":852,"v":1.1},{"t":860,"v":1.8},{"t":868,"v":1.5},{"t":876,"v":1.2},{"t":884,"v":1.6},{"t":892,"v":1.0},{"t":900,"v":1.3},{"t":908,"v":1.7},{"t":916,"v":1.2},{"t":924,"v":1.5},{"t":932,"v":1.1},{"t":940,"v":1.4},{"t":948,"v":1.2},{"t":956,"v":1.6},
{"t":964,"v":1.7},{"t":972,"v":2.0},{"t":980,"v":1.5},{"t":988,"v":2.2},{"t":996,"v":1.8},{"t":1004,"v":1.6},{"t":1012,"v":2.1},{"t":1020,"v":1.9},{"t":1028,"v":1.4},{"t":1036,"v":2.3},{"t":1044,"v":1.7},{"t":1052,"v":2.0},{"t":1060,"v":1.6},{"t":1068,"v":2.4},{"t":1076,"v":2.1},
{"t":1084,"v":2.5},{"t":1092,"v":2.2},{"t":1100,"v":2.7},{"t":1108,"v":2.4},{"t":1116,"v":2.1},{"t":1124,"v":2.6},{"t":1132,"v":2.3},{"t":1140,"v":2.8},{"t":1148,"v":2.2},{"t":1156,"v":2.5},{"t":1164,"v":2.0},{"t":1172,"v":2.4},{"t":1180,"v":2.6},{"t":1188,"v":2.1},{"t":1196,"v":2.3},
{"t":1204,"v":2.2},{"t":1212,"v":1.8},{"t":1220,"v":1.3},{"t":1228,"v":1.6},{"t":1236,"v":2.1},{"t":1244,"v":2.4},{"t":1252,"v":1.9},{"t":1260,"v":2.2},{"t":1268,"v":1.7},{"t":1276,"v":2.0},{"t":1284,"v":2.3},{"t":1292,"v":1.8},{"t":1300,"v":2.1},{"t":1308,"v":1.9},{"t":1316,"v":2.2},
{"t":1324,"v":2.1},{"t":1332,"v":1.8},{"t":1340,"v":2.3},{"t":1348,"v":1.9},{"t":1356,"v":2.4},{"t":1364,"v":2.0},{"t":1372,"v":1.7},{"t":1380,"v":2.2},{"t":1388,"v":1.9},{"t":1396,"v":1.5},{"t":1404,"v":2.1},{"t":1412,"v":2.4},{"t":1420,"v":1.8},{"t":1428,"v":2.0},{"t":1436,"v":2.6}],
"f": [{"t":0,"v":0.006},{"t":8,"v":0.011},{"t":16,"v":-0.001},{"t":24,"v":0.008},{"t":32,"v":0.002},{"t":40,"v":-0.012},{"t":48,"v":0.007},{"t":56,"v":-0.026},{"t":64,"v":-0.004},{"t":72,"v":-0.015},{"t":80,"v":-0.009},{"t":88,"v":-0.018},{"t":96,"v":-0.006},{"t":104,"v":0.001},{"t":112,"v":-0.013},
{"t":120,"v":-0.020},{"t":128,"v":-0.010},{"t":136,"v":-0.003},{"t":144,"v":-0.014},{"t":152,"v":0.002},{"t":160,"v":-0.006},{"t":168,"v":-0.001},{"t":176,"v":0.005},{"t":184,"v":0.012},{"t":192,"v":-0.004},{"t":200,"v":0.003},{"t":208,"v":-0.010},{"t":216,"v":-0.030},{"t":224,"v":-0.037},{"t":232,"v":-0.022},
{"t":240,"v":-0.015},{"t":248,"v":-0.028},{"t":256,"v":0.008},{"t":264,"v":0.018},{"t":272,"v":0.021},{"t":280,"v":0.012},{"t":288,"v":0.004},{"t":296,"v":0.016},{"t":304,"v":-0.003},{"t":312,"v":-0.012},{"t":320,"v":0.006},{"t":328,"v":-0.038},{"t":336,"v":-0.008},{"t":344,"v":-0.020},{"t":352,"v":0.003},
{"t":360,"v":-0.016},{"t":368,"v":-0.027},{"t":376,"v":-0.009},{"t":384,"v":-0.021},{"t":392,"v":0.002},{"t":400,"v":-0.005},{"t":408,"v":0.010},{"t":416,"v":-0.008},{"t":424,"v":0.004},{"t":432,"v":0.013},{"t":440,"v":-0.002},{"t":448,"v":0.008},{"t":456,"v":0.015},{"t":464,"v":0.001},{"t":472,"v":0.011},
{"t":480,"v":0.005},{"t":488,"v":-0.008},{"t":496,"v":-0.013},{"t":504,"v":-0.002},{"t":512,"v":-0.018},{"t":520,"v":-0.005},{"t":528,"v":0.003},{"t":536,"v":-0.010},{"t":544,"v":-0.004},{"t":552,"v":-0.015},{"t":560,"v":0.001},{"t":568,"v":-0.007},{"t":576,"v":-0.016},{"t":584,"v":-0.021},{"t":592,"v":-0.012},
{"t":600,"v":0.001},{"t":608,"v":-0.006},{"t":616,"v":0.005},{"t":624,"v":-0.003},{"t":632,"v":0.008},{"t":640,"v":-0.009},{"t":648,"v":0.002},{"t":656,"v":-0.004},{"t":664,"v":0.006},{"t":672,"v":-0.008},{"t":680,"v":0.000},{"t":688,"v":0.004},{"t":696,"v":-0.006},{"t":704,"v":0.003},{"t":712,"v":-0.002},
{"t":720,"v":0.007},{"t":728,"v":-0.004},{"t":736,"v":0.002},{"t":744,"v":-0.010},{"t":752,"v":0.005},{"t":760,"v":-0.002},{"t":768,"v":0.008},{"t":776,"v":-0.007},{"t":784,"v":0.001},{"t":792,"v":-0.012},{"t":800,"v":0.004},{"t":808,"v":-0.005},{"t":816,"v":0.003},{"t":824,"v":-0.009},{"t":832,"v":0.006},
{"t":840,"v":-0.002},{"t":848,"v":-0.011},{"t":856,"v":0.003},{"t":864,"v":-0.007},{"t":872,"v":-0.015},{"t":880,"v":-0.003},{"t":888,"v":-0.012},{"t":896,"v":-0.018},{"t":904,"v":-0.008},{"t":912,"v":-0.014},{"t":920,"v":-0.004},{"t":928,"v":0.006},{"t":936,"v":0.012},{"t":944,"v":0.015},{"t":952,"v":0.004},
{"t":960,"v":-0.002},{"t":968,"v":0.008},{"t":976,"v":-0.006},{"t":984,"v":0.011},{"t":992,"v":0.002},{"t":1000,"v":-0.009},{"t":1008,"v":0.005},{"t":1016,"v":0.013},{"t":1024,"v":-0.003},{"t":1032,"v":0.007},{"t":1040,"v":0.000},{"t":1048,"v":0.010},{"t":1056,"v":-0.006},{"t":1064,"v":0.004},{"t":1072,"v":0.009},
{"t":1080,"v":0.011},{"t":1088,"v":-0.004},{"t":1096,"v":0.006},{"t":1104,"v":-0.009},{"t":1112,"v":0.002},{"t":1120,"v":0.009},{"t":1128,"v":-0.012},{"t":1136,"v":0.005},{"t":1144,"v":-0.002},{"t":1152,"v":0.008},{"t":1160,"v":-0.006},{"t":1168,"v":-0.011},{"t":1176,"v":-0.017},{"t":1184,"v":-0.008},{"t":1192,"v":-0.014},
{"t":1200,"v":-0.003},{"t":1208,"v":-0.010},{"t":1216,"v":0.004},{"t":1224,"v":-0.006},{"t":1232,"v":-0.013},{"t":1240,"v":0.002},{"t":1248,"v":-0.008},{"t":1256,"v":0.006},{"t":1264,"v":-0.004},{"t":1272,"v":-0.011},{"t":1280,"v":0.001},{"t":1288,"v":-0.007},{"t":1296,"v":0.005},{"t":1304,"v":-0.002},{"t":1312,"v":-0.009},
{"t":1320,"v":-0.004},{"t":1328,"v":-0.012},{"t":1336,"v":0.001},{"t":1344,"v":-0.008},{"t":1352,"v":-0.003},{"t":1360,"v":-0.014},{"t":1368,"v":-0.006},{"t":1376,"v":0.003},{"t":1384,"v":-0.010},{"t":1392,"v":-0.005},{"t":1400,"v":-0.016},{"t":1408,"v":-0.020},{"t":1416,"v":-0.009},{"t":1424,"v":-0.014},{"t":1432,"v":0.003},
{"t":4,"v":0.004},{"t":12,"v":0.007},{"t":20,"v":0.002},{"t":28,"v":0.005},{"t":36,"v":-0.004},{"t":44,"v":-0.007},{"t":52,"v":-0.002},{"t":60,"v":-0.010},{"t":68,"v":-0.006},{"t":76,"v":-0.008},{"t":84,"v":-0.005},{"t":92,"v":-0.011},{"t":100,"v":-0.009},{"t":108,"v":-0.006},{"t":116,"v":-0.008},
{"t":124,"v":-0.012},{"t":132,"v":-0.006},{"t":140,"v":-0.008},{"t":148,"v":-0.005},{"t":156,"v":-0.002},{"t":164,"v":-0.004},{"t":172,"v":0.001},{"t":180,"v":-0.002},{"t":188,"v":0.004},{"t":196,"v":-0.001},{"t":204,"v":-0.005},{"t":212,"v":-0.018},{"t":220,"v":-0.024},{"t":228,"v":-0.028},{"t":236,"v":-0.017},
{"t":244,"v":-0.020},{"t":252,"v":-0.010},{"t":260,"v":0.012},{"t":268,"v":0.009},{"t":276,"v":0.015},{"t":284,"v":0.007},{"t":292,"v":0.011},{"t":300,"v":0.005},{"t":308,"v":-0.006},{"t":316,"v":-0.002},{"t":324,"v":-0.009},{"t":332,"v":-0.014},{"t":340,"v":-0.004},{"t":348,"v":-0.011},{"t":356,"v":-0.007},
{"t":364,"v":-0.012},{"t":372,"v":-0.018},{"t":380,"v":-0.014},{"t":388,"v":-0.010},{"t":396,"v":-0.003},{"t":404,"v":0.001},{"t":412,"v":0.004},{"t":420,"v":0.000},{"t":428,"v":0.006},{"t":436,"v":0.003},{"t":444,"v":0.005},{"t":452,"v":0.002},{"t":460,"v":0.007},{"t":468,"v":0.004},{"t":476,"v":0.006},
{"t":484,"v":-0.003},{"t":492,"v":-0.005},{"t":500,"v":-0.008},{"t":508,"v":-0.006},{"t":516,"v":-0.009},{"t":524,"v":-0.004},{"t":532,"v":-0.007},{"t":540,"v":-0.005},{"t":548,"v":-0.008},{"t":556,"v":-0.006},{"t":564,"v":-0.004},{"t":572,"v":-0.009},{"t":580,"v":-0.013},{"t":588,"v":-0.015},{"t":596,"v":-0.010},
{"t":604,"v":-0.003},{"t":612,"v":-0.001},{"t":620,"v":-0.004},{"t":628,"v":0.000},{"t":636,"v":-0.002},{"t":644,"v":-0.005},{"t":652,"v":-0.001},{"t":660,"v":0.001},{"t":668,"v":-0.003},{"t":676,"v":-0.001},{"t":684,"v":-0.004},{"t":692,"v":0.000},{"t":700,"v":-0.002},{"t":708,"v":-0.003},{"t":716,"v":0.001},
{"t":724,"v":-0.002},{"t":732,"v":0.000},{"t":740,"v":-0.004},{"t":748,"v":-0.003},{"t":756,"v":-0.001},{"t":764,"v":-0.005},{"t":772,"v":-0.002},{"t":780,"v":0.001},{"t":788,"v":-0.004},{"t":796,"v":-0.006},{"t":804,"v":-0.002},{"t":812,"v":-0.003},{"t":820,"v":-0.005},{"t":828,"v":-0.001},{"t":836,"v":-0.004},
{"t":844,"v":-0.006},{"t":852,"v":-0.004},{"t":860,"v":-0.008},{"t":868,"v":-0.005},{"t":876,"v":-0.009},{"t":884,"v":-0.007},{"t":892,"v":-0.010},{"t":900,"v":-0.012},{"t":908,"v":-0.006},{"t":916,"v":-0.009},{"t":924,"v":0.001},{"t":932,"v":0.004},{"t":940,"v":0.008},{"t":948,"v":0.007},{"t":956,"v":0.002},
{"t":964,"v":0.003},{"t":972,"v":0.000},{"t":980,"v":0.004},{"t":988,"v":0.002},{"t":996,"v":-0.002},{"t":1004,"v":0.001},{"t":1012,"v":0.004},{"t":1020,"v":0.002},{"t":1028,"v":0.000},{"t":1036,"v":0.003},{"t":1044,"v":0.005},{"t":1052,"v":0.001},{"t":1060,"v":0.002},{"t":1068,"v":0.000},{"t":1076,"v":0.003},
{"t":1084,"v":0.002},{"t":1092,"v":0.000},{"t":1100,"v":0.003},{"t":1108,"v":-0.002},{"t":1116,"v":0.001},{"t":1124,"v":0.004},{"t":1132,"v":-0.003},{"t":1140,"v":0.000},{"t":1148,"v":0.002},{"t":1156,"v":-0.001},{"t":1164,"v":-0.004},{"t":1172,"v":-0.012},{"t":1180,"v":-0.010},{"t":1188,"v":-0.013},{"t":1196,"v":-0.009},
{"t":1204,"v":-0.006},{"t":1212,"v":-0.003},{"t":1220,"v":-0.005},{"t":1228,"v":-0.002},{"t":1236,"v":-0.007},{"t":1244,"v":-0.004},{"t":1252,"v":-0.001},{"t":1260,"v":-0.005},{"t":1268,"v":-0.003},{"t":1276,"v":-0.006},{"t":1284,"v":-0.002},{"t":1292,"v":-0.004},{"t":1300,"v":-0.001},{"t":1308,"v":-0.005},{"t":1316,"v":-0.003},
{"t":1324,"v":-0.007},{"t":1332,"v":-0.005},{"t":1340,"v":-0.008},{"t":1348,"v":-0.004},{"t":1356,"v":-0.006},{"t":1364,"v":-0.009},{"t":1372,"v":-0.005},{"t":1380,"v":-0.007},{"t":1388,"v":-0.006},{"t":1396,"v":-0.010},{"t":1404,"v":-0.008},{"t":1412,"v":-0.012},{"t":1420,"v":-0.007},{"t":1428,"v":-0.005},{"t":1436,"v":-0.002}]
},
"concat": [
{"width": 380, "height": 168, "data": {"name": "a"},
 "layer": [
  {"mark": {"type": "circle", "size": 42, "color": "#0000FF", "opacity": 1},
   "encoding": {
    "x": {"field": "t", "type": "quantitative", "scale": {"domain": [0, 1440], "nice": false}, "axis": {"values": [0, 480, 960, 1440], "labelExpr": "datum.value==480?'08':(datum.value==960?'16':'00')", "title": null}},
    "y": {"field": "v", "type": "quantitative", "scale": {"domain": [-4, 4], "nice": false, "zero": false}, "axis": {"values": [-4, -2, 0, 2, 4], "labelExpr": "(datum.value<0?'-':'')+format(abs(datum.value),'d')", "title": null}}}},
  {"data": {"values": [{"label": "mean=-0.256 ns"}]},
   "mark": {"type": "text", "fontSize": 26, "color": "#000000", "baseline": "middle"},
   "encoding": {
    "x": {"datum": 720, "type": "quantitative", "scale": {"domain": [0, 1440], "nice": false}, "axis": {"orient": "top", "values": [0, 480, 960, 1440], "labels": false, "title": null}},
    "y": {"datum": 2.74, "type": "quantitative", "scale": {"domain": [-4, 4], "nice": false, "zero": false}, "axis": {"orient": "right", "values": [-4, -2, 0, 2, 4], "labels": false, "title": null}},
    "text": {"field": "label"}}},
  {"data": {"values": [{"label": "std=0.137 ns"}]},
   "mark": {"type": "text", "fontSize": 26, "color": "#000000", "baseline": "middle"},
   "encoding": {
    "x": {"datum": 720, "type": "quantitative", "scale": {"domain": [0, 1440], "nice": false}, "axis": null},
    "y": {"datum": -3.24, "type": "quantitative", "scale": {"domain": [-4, 4], "nice": false, "zero": false}, "axis": null},
    "text": {"field": "label"}}}
 ],
 "resolve": {"axis": {"x": "independent", "y": "independent"}}},
{"width": 380, "height": 168, "data": {"name": "b"},
 "layer": [
  {"mark": {"type": "circle", "size": 42, "color": "#0000FF", "opacity": 1},
   "encoding": {
    "x": {"field": "t", "type": "quantitative", "scale": {"domain": [0, 1440], "nice": false}, "axis": {"values": [0, 480, 960, 1440], "labelExpr": "datum.value==480?'08':(datum.value==960?'16':'00')", "title": null}},
    "y": {"field": "v", "type": "quantitative", "scale": {"domain": [-0.04, 0.04], "nice": false, "zero": false}, "axis": {"values": [-0.04, -0.02, 0, 0.02, 0.04], "labelExpr": "datum.value==0?'0':(datum.value<0?'-':'')+format(abs(datum.value),'.2f')", "title": null}}}},
  {"data": {"values": [{"label": "mean=-0.003 ns"}]},
   "mark": {"type": "text", "fontSize": 26, "color": "#000000", "baseline": "middle"},
   "encoding": {
    "x": {"datum": 720, "type": "quantitative", "scale": {"domain": [0, 1440], "nice": false}, "axis": {"orient": "top", "values": [0, 480, 960, 1440], "labels": false, "title": null}},
    "y": {"datum": 0.0274, "type": "quantitative", "scale": {"domain": [-0.04, 0.04], "nice": false, "zero": false}, "axis": {"orient": "right", "values": [-0.04, -0.02, 0, 0.02, 0.04], "labels": false, "title": null}},
    "text": {"field": "label"}}},
  {"data": {"values": [{"label": "std=0.001 ns"}]},
   "mark": {"type": "text", "fontSize": 26, "color": "#000000", "baseline": "middle"},
   "encoding": {
    "x": {"datum": 720, "type": "quantitative", "scale": {"domain": [0, 1440], "nice": false}, "axis": null},
    "y": {"datum": -0.0324, "type": "quantitative", "scale": {"domain": [-0.04, 0.04], "nice": false, "zero": false}, "axis": null},
    "text": {"field": "label"}}}
 ],
 "resolve": {"axis": {"x": "independent", "y": "independent"}}},
{"width": 380, "height": 168, "data": {"name": "c"},
 "layer": [
  {"mark": {"type": "circle", "size": 42, "color": "#0000FF", "opacity": 1},
   "encoding": {
    "x": {"field": "t", "type": "quantitative", "scale": {"domain": [0, 1440], "nice": false}, "axis": {"values": [0, 480, 960, 1440], "labelExpr": "datum.value==480?'08':(datum.value==960?'16':'00')", "title": null}},
    "y": {"field": "v", "type": "quantitative", "scale": {"domain": [-4, 4], "nice": false, "zero": false}, "axis": {"values": [-4, -2, 0, 2, 4], "labelExpr": "(datum.value<0?'-':'')+format(abs(datum.value),'d')", "title": "Code ISBs (ns)"}}}},
  {"data": {"values": [{"label": "mean=-0.316 ns"}]},
   "mark": {"type": "text", "fontSize": 26, "color": "#000000", "baseline": "middle"},
   "encoding": {
    "x": {"datum": 720, "type": "quantitative", "scale": {"domain": [0, 1440], "nice": false}, "axis": {"orient": "top", "values": [0, 480, 960, 1440], "labels": false, "title": null}},
    "y": {"datum": 2.74, "type": "quantitative", "scale": {"domain": [-4, 4], "nice": false, "zero": false}, "axis": {"orient": "right", "values": [-4, -2, 0, 2, 4], "labels": false, "title": null}},
    "text": {"field": "label"}}},
  {"data": {"values": [{"label": "std=0.187 ns"}]},
   "mark": {"type": "text", "fontSize": 26, "color": "#000000", "baseline": "middle"},
   "encoding": {
    "x": {"datum": 720, "type": "quantitative", "scale": {"domain": [0, 1440], "nice": false}, "axis": null},
    "y": {"datum": -3.24, "type": "quantitative", "scale": {"domain": [-4, 4], "nice": false, "zero": false}, "axis": null},
    "text": {"field": "label"}}}
 ],
 "resolve": {"axis": {"x": "independent", "y": "independent"}}},
{"width": 380, "height": 168, "data": {"name": "d"},
 "layer": [
  {"mark": {"type": "circle", "size": 42, "color": "#0000FF", "opacity": 1},
   "encoding": {
    "x": {"field": "t", "type": "quantitative", "scale": {"domain": [0, 1440], "nice": false}, "axis": {"values": [0, 480, 960, 1440], "labelExpr": "datum.value==480?'08':(datum.value==960?'16':'00')", "title": null}},
    "y": {"field": "v", "type": "quantitative", "scale": {"domain": [-0.04, 0.04], "nice": false, "zero": false}, "axis": {"values": [-0.04, -0.02, 0, 0.02, 0.04], "labelExpr": "datum.value==0?'0':(datum.value<0?'-':'')+format(abs(datum.value),'.2f')", "title": "Phase ISBs (ns)", "titlePadding": 3}}}},
  {"data": {"values": [{"label": "mean=-0.004 ns"}]},
   "mark": {"type": "text", "fontSize": 26, "color": "#000000", "baseline": "middle"},
   "encoding": {
    "x": {"datum": 720, "type": "quantitative", "scale": {"domain": [0, 1440], "nice": false}, "axis": {"orient": "top", "values": [0, 480, 960, 1440], "labels": false, "title": null}},
    "y": {"datum": 0.0274, "type": "quantitative", "scale": {"domain": [-0.04, 0.04], "nice": false, "zero": false}, "axis": {"orient": "right", "values": [-0.04, -0.02, 0, 0.02, 0.04], "labels": false, "title": null}},
    "text": {"field": "label"}}},
  {"data": {"values": [{"label": "std=0.002 ns"}]},
   "mark": {"type": "text", "fontSize": 26, "color": "#000000", "baseline": "middle"},
   "encoding": {
    "x": {"datum": 720, "type": "quantitative", "scale": {"domain": [0, 1440], "nice": false}, "axis": null},
    "y": {"datum": -0.0324, "type": "quantitative", "scale": {"domain": [-0.04, 0.04], "nice": false, "zero": false}, "axis": null},
    "text": {"field": "label"}}}
 ],
 "resolve": {"axis": {"x": "independent", "y": "independent"}}},
{"width": 380, "height": 168, "data": {"name": "e"},
 "layer": [
  {"mark": {"type": "circle", "size": 42, "color": "#0000FF", "opacity": 1},
   "encoding": {
    "x": {"field": "t", "type": "quantitative", "scale": {"domain": [0, 1440], "nice": false}, "axis": {"values": [0, 480, 960, 1440], "labelExpr": "datum.value==480?'08':(datum.value==960?'16':'00')", "title": "UTC Time"}},
    "y": {"field": "v", "type": "quantitative", "scale": {"domain": [-4, 8], "nice": false, "zero": false}, "axis": {"values": [-4, -2, 0, 2, 4, 6, 8], "labelExpr": "(datum.value<0?'-':'')+format(abs(datum.value),'d')", "title": null}}}},
  {"data": {"values": [{"label": "mean=1.576 ns"}]},
   "mark": {"type": "text", "fontSize": 26, "color": "#FF0000", "baseline": "middle"},
   "encoding": {
    "x": {"datum": 720, "type": "quantitative", "scale": {"domain": [0, 1440], "nice": false}, "axis": {"orient": "top", "values": [0, 480, 960, 1440], "labels": false, "title": null}},
    "y": {"datum": 6.11, "type": "quantitative", "scale": {"domain": [-4, 8], "nice": false, "zero": false}, "axis": {"orient": "right", "values": [-4, -2, 0, 2, 4, 6, 8], "labels": false, "title": null}},
    "text": {"field": "label"}}},
  {"data": {"values": [{"label": "std=0.265 ns"}]},
   "mark": {"type": "text", "fontSize": 26, "color": "#FF0000", "baseline": "middle"},
   "encoding": {
    "x": {"datum": 720, "type": "quantitative", "scale": {"domain": [0, 1440], "nice": false}, "axis": null},
    "y": {"datum": -2.86, "type": "quantitative", "scale": {"domain": [-4, 8], "nice": false, "zero": false}, "axis": null},
    "text": {"field": "label"}}}
 ],
 "resolve": {"axis": {"x": "independent", "y": "independent"}}},
{"width": 380, "height": 168, "data": {"name": "f"},
 "layer": [
  {"mark": {"type": "circle", "size": 42, "color": "#0000FF", "opacity": 1},
   "encoding": {
    "x": {"field": "t", "type": "quantitative", "scale": {"domain": [0, 1440], "nice": false}, "axis": {"values": [0, 480, 960, 1440], "labelExpr": "datum.value==480?'08':(datum.value==960?'16':'00')", "title": "UTC Time"}},
    "y": {"field": "v", "type": "quantitative", "scale": {"domain": [-0.04, 0.04], "nice": false, "zero": false}, "axis": {"values": [-0.04, -0.02, 0, 0.02, 0.04], "labelExpr": "datum.value==0?'0':(datum.value<0?'-':'')+format(abs(datum.value),'.2f')", "title": null}}}},
  {"data": {"values": [{"label": "mean=-0.004 ns"}]},
   "mark": {"type": "text", "fontSize": 26, "color": "#000000", "baseline": "middle"},
   "encoding": {
    "x": {"datum": 720, "type": "quantitative", "scale": {"domain": [0, 1440], "nice": false}, "axis": {"orient": "top", "values": [0, 480, 960, 1440], "labels": false, "title": null}},
    "y": {"datum": 0.0274, "type": "quantitative", "scale": {"domain": [-0.04, 0.04], "nice": false, "zero": false}, "axis": {"orient": "right", "values": [-0.04, -0.02, 0, 0.02, 0.04], "labels": false, "title": null}},
    "text": {"field": "label"}}},
  {"data": {"values": [{"label": "std=0.002 ns"}]},
   "mark": {"type": "text", "fontSize": 26, "color": "#000000", "baseline": "middle"},
   "encoding": {
    "x": {"datum": 720, "type": "quantitative", "scale": {"domain": [0, 1440], "nice": false}, "axis": null},
    "y": {"datum": -0.0324, "type": "quantitative", "scale": {"domain": [-0.04, 0.04], "nice": false, "zero": false}, "axis": null},
    "text": {"field": "label"}}}
 ],
 "resolve": {"axis": {"x": "independent", "y": "independent"}}}
]
}
